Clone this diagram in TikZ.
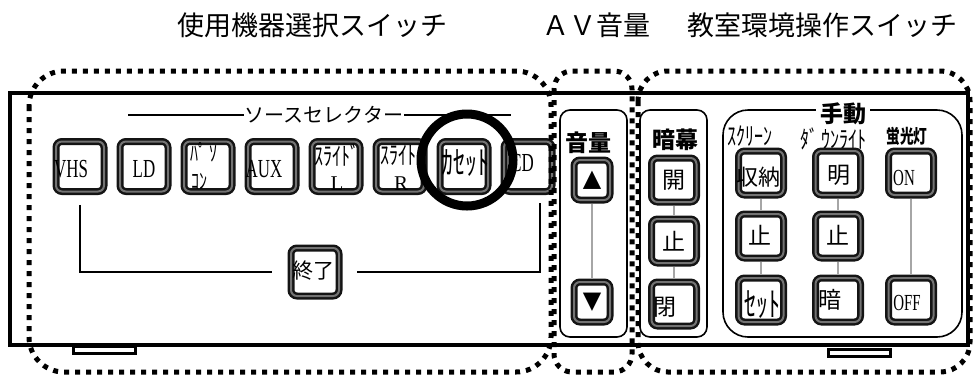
\documentclass[tikz,border=0pt]{standalone}
\usepackage{fontspec}
\usepackage{graphicx}
\newfontfamily\jp{Noto Sans CJK JP}
\newfontfamily\lat{Liberation Serif}
\newfontfamily\sym{DejaVu Sans}
\newcommand\fsz[1]{\fontsize{#1}{#1}\selectfont}
\newcommand\nar[2]{\scalebox{#1}[1]{#2}}
\newcommand\tall[2]{\scalebox{1}[#1]{#2}}
\tikzset{
  btn/.style={draw=black!92, line width=2.5pt, double=black!55, double distance=2pt, rounded corners=6pt, fill=white, inner sep=0pt},
  srcbtn/.style={btn, minimum width=48pt, minimum height=50pt},
  endbtn/.style={btn, minimum width=48pt, minimum height=48pt},
  avbtn/.style={btn, minimum width=36pt, minimum height=40pt},
  ctlbtn/.style={btn, minimum width=45pt, minimum height=44pt},
  panel/.style={draw, line width=1.6pt, rounded corners=10pt, inner sep=0pt},
  dotreg/.style={line width=5pt, dash pattern=on 5pt off 6pt},
  conn/.style={draw=gray!70, line width=2pt, shorten <=3pt, shorten >=3pt},
  blk/.style={line width=1.5pt},
  foot/.style={draw, line width=3pt, fill=white, minimum width=62pt, minimum height=7pt, inner sep=0pt},
  title/.style={font=\jp\fsz{27}, inner sep=0pt},
  jtxt/.style={inner sep=0pt, font=\jp\fsz{22}},
  ltxt/.style={inner sep=0pt, font=\lat\fsz{26}},
  hdr/.style={inner sep=0pt, font=\jp\bfseries\fsz{23}},
}
\begin{document}
\begin{tikzpicture}[x=1pt, y=-1pt]
\useasboundingbox (0,0) rectangle (976,376);
% titles
\node[title] (t1) at (312,25) {使用機器選択スイッチ};
\node[title] (t2) at (596,25) {ＡＶ音量};
\node[title] (t3) at (822,25) {教室環境操作スイッチ};
% main panel and feet
\node[draw, line width=3.5pt, minimum width=958pt, minimum height=252pt, inner sep=0pt] (body) at (489,219) {};
\node[foot] (footL) at (104.5,350) {};
\node[foot] (footR) at (859.5,352.5) {};
% source selector caption
\node[inner sep=0pt, font=\jp\fsz{20}] (src) at (324,115) {ソースセレクター};
\coordinate (srcL) at (128,115);
\coordinate (srcR) at (511,115);
\draw[blk] (srcL) -- ([xshift=-1pt]src.west);
\draw[blk] ([xshift=1pt]src.east) -- (srcR);
% source buttons
\node[srcbtn] (vhs) at (80,166.5) {};
\node[srcbtn] (ld) at (144,166.5) {};
\node[srcbtn] (pc) at (208,166.5) {};
\node[srcbtn] (aux) at (272,166.5) {};
\node[srcbtn] (sl) at (336,166.5) {};
\node[srcbtn] (sr) at (400,166.5) {};
\node[srcbtn] (cas) at (464,166.5) {};
\node[srcbtn] (cd) at (528,166.5) {};
\node[ltxt] (vhsT) at (71,169) {\nar{0.65}{VHS}};
\node[ltxt] (ldT) at (144,169) {\nar{0.65}{LD}};
\node[jtxt, font=\jp\fsz{16}] (pcT1) at (204,152) {\tall{1.4}{ﾊﾟ ｿ}};
\node[jtxt, font=\jp\fsz{16}] (pcT2) at (199,182) {\tall{1.4}{ｺﾝ}};
\node[ltxt] (auxT) at (264,169) {\nar{0.65}{AUX}};
\node[jtxt, font=\jp\fsz{18}] (slT1) at (337,155) {\tall{1.4}{ｽﾗｲﾄﾞ}};
\node[ltxt, font=\lat\fsz{21}] (slT2) at (337,184) {L};
\node[jtxt, font=\jp\fsz{18}] (srT1) at (398,155) {\tall{1.4}{ｽﾗｲﾄ}};
\node[ltxt, font=\lat\fsz{21}] (srT2) at (401,184) {R};
\node[jtxt, font=\jp\fsz{24}] (casT) at (465,163) {\tall{1.35}{ｶｾｯﾄ}};
\node[ltxt] (cdT) at (522,163) {\nar{0.65}{CD}};
% highlight ring
\node[circle, draw, line width=9pt, minimum size=92pt, inner sep=0pt] (ring) at (467,160) {};
% end button and lines
\node[endbtn] (owari) at (315,272) {};
\node[jtxt, font=\jp\fsz{21}] (owariT) at (313,271) {終了};
\draw[blk] ([yshift=-12pt]vhs.south) |- ([xshift=-18pt]owari.west);
\draw[blk] ([xshift=17pt]owari.east) -| ([xshift=12pt,yshift=-10pt]cd.south);
% AV volume panel
\node[panel, minimum width=67pt, minimum height=227pt] (avp) at (593.5,223.5) {};
\node[hdr] (avT) at (588,143) {音量};
\node[avbtn] (up) at (592,180) {};
\node[avbtn] (down) at (592,302) {};
\draw[conn] (up.south) -- (down.north);
\node[inner sep=0pt, font=\sym\fsz{24}] (upT) at (592,180) {▲};
\node[inner sep=0pt, font=\sym\fsz{24}] (downT) at (592,302) {▼};
% curtain panel
\node[panel, minimum width=67pt, minimum height=227pt] (cup) at (673.5,223.5) {};
\node[hdr] (cuT) at (675,140) {暗幕};
\node[ctlbtn] (kai) at (674,180) {};
\node[ctlbtn] (tome1) at (674,241) {};
\node[ctlbtn] (hei) at (674,304) {};
\draw[conn] (kai.south) -- (tome1.north);
\draw[conn] (tome1.south) -- (hei.north);
\node[jtxt, font=\jp\fsz{23}] (kaiT) at (674,180) {開};
\node[jtxt, font=\jp\fsz{23}] (tome1T) at (674,241) {止};
\node[jtxt, font=\jp\fsz{23}] (heiT) at (665,307) {閉};
% manual panel
\node[panel, rounded corners=25pt, minimum width=239pt, minimum height=227pt] (man) at (842.5,223.5) {};
\node[hdr, fill=white, inner xsep=4pt, inner ysep=0pt] (manT) at (843,114) {手動};
\node[jtxt, font=\jp\fsz{18}] (h1) at (750,136) {\tall{1.4}{ｽｸﾘｰﾝ}};
\node[jtxt, font=\jp\fsz{18}] (h2) at (833,139) {\tall{1.35}{ﾀﾞ\,ｳﾝﾗｲﾄ}};
\node[jtxt, font=\jp\bfseries\fsz{19}] (h3) at (907,136) {\nar{0.72}{蛍光灯}};
\node[ctlbtn] (shuno) at (761,173) {};
\node[ctlbtn] (tome2) at (761,236) {};
\node[ctlbtn] (set) at (761,300) {};
\node[ctlbtn] (mei) at (838,173) {};
\node[ctlbtn] (tome3) at (838,236) {};
\node[ctlbtn] (an) at (838,300) {};
\node[ctlbtn] (on) at (911,173) {};
\node[ctlbtn] (off) at (911,300) {};
\draw[conn] (shuno.south) -- (tome2.north);
\draw[conn] (tome2.south) -- (set.north);
\draw[conn] (mei.south) -- (tome3.north);
\draw[conn] (tome3.south) -- (an.north);
\draw[conn] (on.south) -- (off.north);
\node[jtxt] (shunoT) at (758,177) {収納};
\node[jtxt, font=\jp\fsz{23}] (tome2T) at (760,235) {止};
\node[jtxt, font=\jp\fsz{24}] (setT) at (762,305) {\tall{1.4}{ｾｯﾄ}};
\node[jtxt, font=\jp\fsz{23}] (meiT) at (839,175) {明};
\node[jtxt, font=\jp\fsz{23}] (tome3T) at (838,235) {止};
\node[jtxt, font=\jp\fsz{23}] (anT) at (830,300) {暗};
\node[ltxt, font=\lat\fsz{23}] (onT) at (904,178) {\nar{0.65}{ON}};
\node[ltxt, font=\lat\fsz{23}] (offT) at (907,303) {\nar{0.65}{OFF}};
% dotted regions
\draw[dotreg, rounded corners=35pt] (29,71) rectangle (551,372);
\draw[dotreg, rounded corners=18pt] (554,71) rectangle (632,372);
\draw[dotreg, rounded corners=30pt] (638,71) rectangle (970,372);
\end{tikzpicture}
\end{document}
